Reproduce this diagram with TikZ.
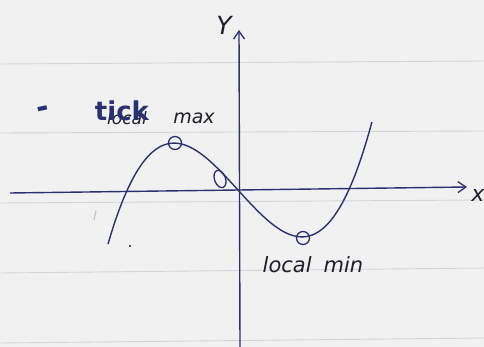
\documentclass[tikz,border=0pt]{standalone}
\usepackage{fontspec}
\setmainfont{DejaVu Sans}
\usetikzlibrary{arrows.meta}
\definecolor{paper}{HTML}{F1F1F1}
\definecolor{rule}{HTML}{D3D5DC}
\definecolor{ink}{HTML}{2B3170}
\definecolor{pencil}{HTML}{1E1E28}
\tikzset{
  ruleline/.style={rule, line width=0.9pt},
  axisline/.style={ink, line width=1.4pt, -{Straight Barb[length=8pt,width=11pt,line width=1.3pt]}},
  curveline/.style={ink, line width=1.4pt},
  marker/.style={ink, line width=1.3pt},
  hand/.style={pencil, inner sep=0pt},
  bigink/.style={ink, inner sep=0pt}
}
\begin{document}
\begin{tikzpicture}[x=1pt,y=-1pt]
\fill[paper] (0,0) rectangle (484,347);
\useasboundingbox (0,0) rectangle (484,347);
% ruled lines
\draw[ruleline] (0,64) -- (484,61);
\draw[ruleline] (0,133) -- (484,131);
\draw[ruleline] (0,203) -- (484,200);
\draw[ruleline] (0,273) -- (484,268);
\draw[ruleline] (0,343) -- (484,338);
% axes
\coordinate (xstart) at (10,193);
\coordinate (xend) at (467,187);
\coordinate (ystart) at (240,347);
\coordinate (yend) at (239,30);
\draw[axisline] (xstart) -- (xend);
\draw[axisline] (ystart) -- (yend);
\node[hand, font=\fontsize{22}{22}\selectfont\itshape] (xlab) at (478,195) {x};
\node[hand, font=\fontsize{25}{25}\selectfont\itshape] (ylab) at (224,25) {Y};
% curve
\draw[curveline] plot[domain=-1.30:1.34, samples=90, smooth] ({238+100*\x}, {190 - (89.7*\x*\x*\x - 110*\x)});
% markers
\coordinate (maxpt) at (175,143);
\coordinate (minpt) at (303,238);
\draw[marker] (maxpt) circle (6.5);
\draw[marker] (minpt) circle (6.5);
\draw[marker, rotate around={20:(220,179)}] (220,179) ellipse (5.5 and 9);
% texts
\node[bigink, font=\fontsize{30}{30}\selectfont\bfseries, rotate=12] (dash) at (43,112) {-};
\node[hand, font=\fontsize{17}{17}\selectfont\itshape] (localtop) at (127,118) {local};
\node[bigink, font=\fontsize{26}{26}\selectfont\bfseries] (tick) at (122,111) {tick};
\node[hand, font=\fontsize{19}{19}\selectfont\itshape] (max) at (194,118) {max};
\node[hand, font=\fontsize{21}{21}\selectfont\itshape] (localmin) at (313,265) {local\hspace{12pt}min};
% stray marks
\draw[rule!80!gray, line width=1.2pt] (96,211) -- (94,220);
\fill[pencil] (130,246) circle (1.2);
\end{tikzpicture}
\end{document}
